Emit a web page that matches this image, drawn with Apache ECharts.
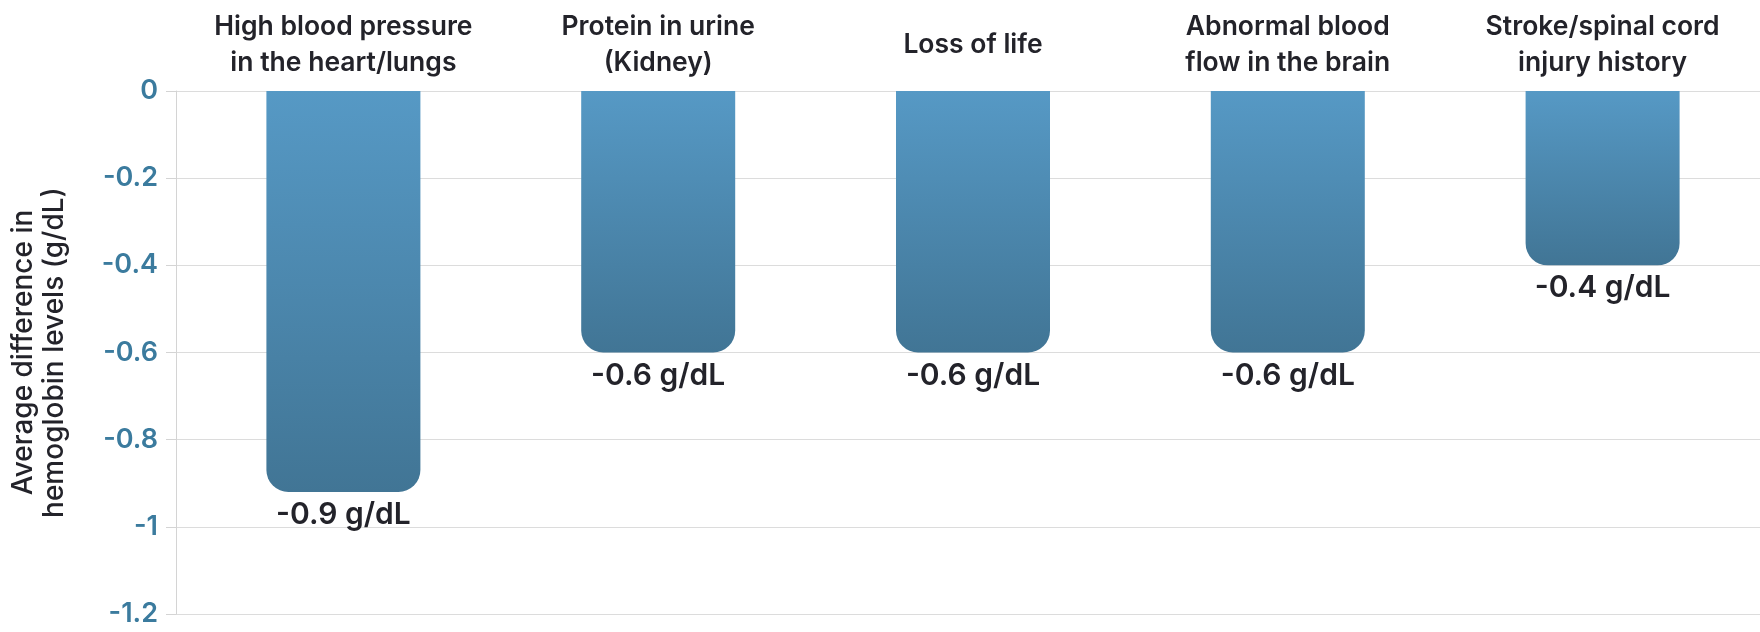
<!DOCTYPE html>
<html>
<head>
<meta charset="utf-8">
<style>
  html, body { margin: 0; padding: 0; background: #ffffff; }
  #chart { width: 1760px; height: 632px; }
</style>
<script src="https://cdn.jsdelivr.net/npm/echarts@6/dist/echarts.min.js"></script>
</head>
<body>
<div id="chart"></div>
<script>
const categories = [
  'High blood pressure\nin the heart/lungs',
  'Protein in urine\n(Kidney)',
  'Loss of life',
  'Abnormal blood\nflow in the brain',
  'Stroke/spinal cord\ninjury history'
];
const values = [-0.92, -0.6, -0.6, -0.6, -0.4];
const valueLabels = ['-0.9 g/dL', '-0.6 g/dL', '-0.6 g/dL', '-0.6 g/dL', '-0.4 g/dL'];
const yAxisTitle = 'Average difference in\nhemoglobin levels (g/dL)';

const FONT = 'Inter, "Noto Sans", sans-serif';
const chart = echarts.init(document.getElementById('chart'), null, { renderer: 'canvas' });

chart.setOption({
  animation: false,
  backgroundColor: '#ffffff',
  grid: [
    { left: 168, right: 0, top: 91, bottom: 18 },
    { left: 186, right: -5, top: 91, bottom: 18 }
  ],
  xAxis: [
    { gridIndex: 0, type: 'category', data: categories, show: false },
    {
      gridIndex: 1, type: 'category', data: categories, position: 'top',
      axisLine: { show: false }, axisTick: { show: false },
      axisLabel: {
        fontFamily: FONT, fontSize: 26.5, fontWeight: 600, color: '#23232a',
        lineHeight: 36, margin: 46, verticalAlign: 'middle', interval: 0
      }
    }
  ],
  yAxis: [
    {
      gridIndex: 0, type: 'value', min: -1.2, max: 0, interval: 0.2,
      name: yAxisTitle, nameLocation: 'middle', nameRotate: 90, nameGap: 106,
      nameTextStyle: { fontFamily: FONT, fontSize: 28, fontWeight: 500, color: '#23232a', lineHeight: 31 },
      axisLine: { show: true, lineStyle: { color: '#d4d4d4', width: 1 } },
      axisTick: { show: true, length: 10, lineStyle: { color: '#d4d4d4', width: 1 } },
      splitLine: { show: true, lineStyle: { color: '#dcdcdc', width: 1 } },
      axisLabel: { fontFamily: FONT, fontSize: 27, fontWeight: 600, color: '#3b7b9e', margin: 18 }
    },
    { gridIndex: 1, type: 'value', min: -1.2, max: 0, interval: 0.2, show: false, splitLine: { show: false } }
  ],
  series: [
    {
      type: 'bar', xAxisIndex: 1, yAxisIndex: 1, data: values, barWidth: 154,
      itemStyle: {
        borderRadius: [0, 0, 22, 22],
        color: new echarts.graphic.LinearGradient(0, 0, 0, 1, [
          { offset: 0, color: '#5699c5' },
          { offset: 1, color: '#417595' }
        ])
      },
      label: {
        show: true, position: 'bottom', distance: 8,
        fontFamily: FONT, fontSize: 30, fontWeight: 600, color: '#23232a',
        formatter: p => valueLabels[p.dataIndex]
      }
    }
  ]
});
</script>
</body>
</html>
